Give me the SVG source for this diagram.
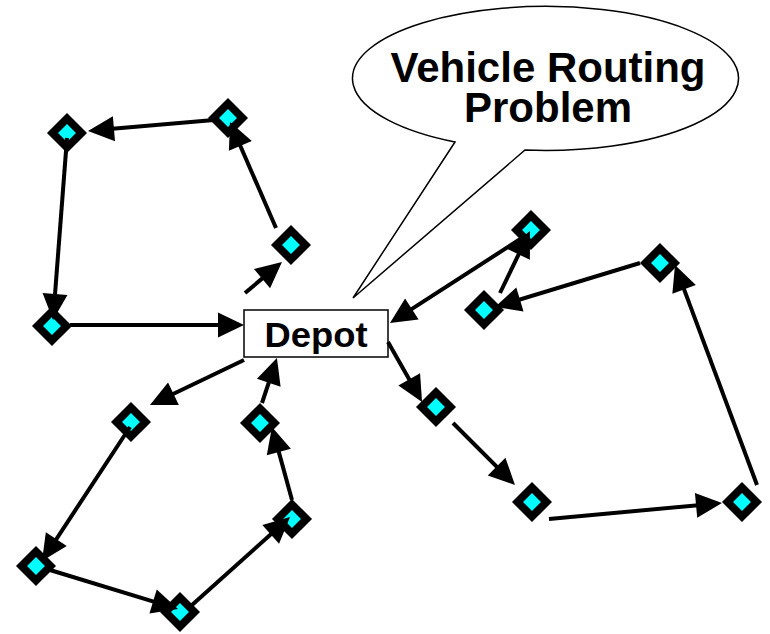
<svg xmlns="http://www.w3.org/2000/svg" width="770" height="634" viewBox="0 0 770 634">
  <style>
    .node { fill: #00ffff; stroke: #000; stroke-width: 7.8; }
    .edge { fill: none; stroke: #000; stroke-width: 4; marker-end: url(#head); }
    .label { font-family: "Liberation Sans", Arial, sans-serif; font-weight: bold; fill: #000; text-anchor: middle; }
  </style>
  <defs>
    <marker id="head" markerUnits="userSpaceOnUse" markerWidth="26" markerHeight="25" refX="16" refY="12.5" orient="auto" overflow="visible">
      <path d="M0,0 L26,12.5 L0,25 Z" fill="#000"/>
    </marker>
    <rect id="stop" class="node" x="-10.25" y="-10.25" width="20.5" height="20.5" transform="rotate(45)"/>
  </defs>

  <rect width="770" height="634" fill="#fff"/>

  <!-- speech bubble -->
  <g id="callout">
    <path d="M455,142 L353,298 L525,150 A193,72 0 1 0 455,142 Z" fill="#fff" stroke="#000" stroke-width="1.5"/>
    <text class="label" x="548" y="82" font-size="42">Vehicle Routing</text>
    <text class="label" x="548" y="122" font-size="42">Problem</text>
  </g>

  <!-- depot -->
  <g id="depot">
    <rect x="244" y="310" width="144" height="47" fill="#fff" stroke="#000" stroke-width="1.5"/>
    <text class="label" x="316" y="347" font-size="35" textLength="103" lengthAdjust="spacingAndGlyphs">Depot</text>
  </g>

  <!-- customers -->
  <g id="n-a"><use href="#stop" transform="translate(67,133)"/></g>
  <g id="n-b"><use href="#stop" transform="translate(228,118)"/></g>
  <g id="n-c"><use href="#stop" transform="translate(291,245)"/></g>
  <g id="n-d"><use href="#stop" transform="translate(52,326)"/></g>
  <g id="n-e"><use href="#stop" transform="translate(131,422)"/></g>
  <g id="n-f"><use href="#stop" transform="translate(36,566)"/></g>
  <g id="n-g"><use href="#stop" transform="translate(180,612)"/></g>
  <g id="n-h"><use href="#stop" transform="translate(292,519)"/></g>
  <g id="n-i"><use href="#stop" transform="translate(260,423)"/></g>
  <g id="n-j"><use href="#stop" transform="translate(531,230)"/></g>
  <g id="n-k"><use href="#stop" transform="translate(484,310)"/></g>
  <g id="n-l"><use href="#stop" transform="translate(660,263)"/></g>
  <g id="n-m"><use href="#stop" transform="translate(436,407)"/></g>
  <g id="n-n"><use href="#stop" transform="translate(532,502)"/></g>
  <g id="n-o"><use href="#stop" transform="translate(742,502)"/></g>

  <!-- routes -->
  <g id="connectors">
    <!-- route 1 -->
    <path class="edge" d="M245,293 L274.3,268.4"/>
    <path class="edge" d="M276,228 L234,131.2"/>
    <path class="edge" d="M214,120 L98,130.1"/>
    <path class="edge" d="M67,138 L53.8,310"/>
    <path class="edge" d="M70,325 L234,325"/>
    <!-- route 2 -->
    <path class="edge" d="M244,360 L159,400.7"/>
    <path class="edge" d="M130,427 L47.5,552.6"/>
    <path class="edge" d="M50,570 L168.4,606.1"/>
    <path class="edge" d="M192,605 L282.6,523.7"/>
    <path class="edge" d="M292,500 L274.6,436.6"/>
    <path class="edge" d="M262,403 L273.8,367.5"/>
    <!-- route 3 -->
    <path class="edge" d="M388,342 L417.1,393.3"/>
    <path class="edge" d="M453,423 L507.9,477.9"/>
    <path class="edge" d="M549,519 L712,503.9"/>
    <path class="edge" d="M757,485 L678.5,274.4"/>
    <path class="edge" d="M640,263 L504.6,304.1"/>
    <path class="edge" d="M500,293 L525.6,240"/>
    <path class="edge" d="M525,236 L398.4,317.6"/>
  </g>
</svg>
